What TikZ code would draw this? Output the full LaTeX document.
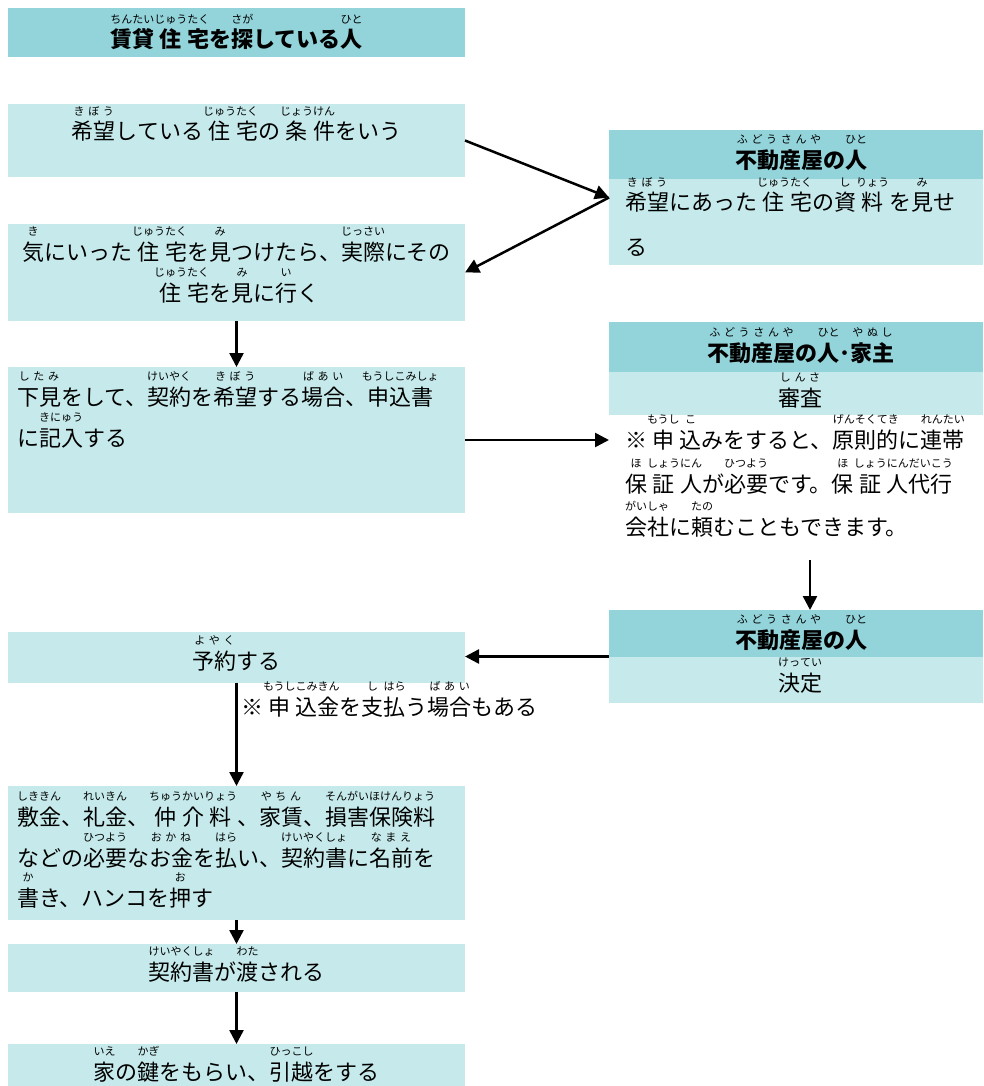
\documentclass[tikz,border=0pt]{standalone}
\usepackage{fontspec}
\setmainfont{Noto Sans CJK JP}
\usetikzlibrary{arrows.meta,fit}
\definecolor{hdrc}{RGB}{147,212,219}
\definecolor{bodyc}{RGB}{198,234,235}
\newcommand\rubyfont{\normalfont\fontsize{11}{12}\selectfont}
\newdimen\rbraise \rbraise=24.5pt
\newdimen\rbw
\def\RSfirst#1{#1\RSloop}%
\def\RSloop#1{\ifx\relax#1\else\hskip0pt plus1fil\relax#1\expandafter\RSloop\fi}%
\newcommand\rb[2]{\leavevmode\begingroup
 \setbox0=\hbox{#1}%
 \setbox2=\hbox{\rubyfont #2}%
 \ifdim\wd2<\wd0 %
  \setbox2=\hbox to\wd0{\rubyfont\hskip0pt plus.5fil\relax\RSfirst#2\relax\hskip0pt plus.5fil\relax}%
 \fi
 \ifdim\wd2>\wd0 \rbw=\wd2 \else \rbw=\wd0 \fi
 \hbox to\rbw{\hss\box0\hss}%
 \kern-\rbw
 \raise\rbraise\hbox to\rbw{\hss\box2\hss}%
 \endgroup}
% ruby that may overhang its base (no widening of the base)
\newcommand\rbo[2]{\leavevmode\begingroup
 \setbox0=\hbox{#1}%
 \setbox2=\hbox{\rubyfont #2}%
 \rbw=\wd0
 \hbox to\rbw{\hss\box0\hss}%
 \kern-\rbw
 \raise\rbraise\hbox to\rbw{\hss\box2\hss}%
 \endgroup}
\tikzset{
 hdrbox/.style={fill=hdrc, draw=none, inner sep=0pt, outer sep=0pt, anchor=north west},
 bodybox/.style={fill=bodyc, draw=none, inner sep=0pt, outer sep=0pt, anchor=north west},
 voidbox/.style={draw=none, inner sep=0pt, outer sep=0pt, anchor=north west},
 txt/.style={inner sep=0pt, outer sep=0pt, font=\fontsize{22}{26}\selectfont},
 txtb/.style={inner sep=0pt, outer sep=0pt, font=\fontsize{22}{26}\selectfont\bfseries},
 arr/.style={line width=2.5pt, -{Triangle[length=14pt,width=14pt]}}
}
\begin{document}
\begin{tikzpicture}[x=1pt,y=-1pt]
\useasboundingbox (0,0) rectangle (983,1086);
% left column boxes
\node[hdrbox, minimum width=457pt, minimum height=49pt] (title) at (8,8) {};
\node[bodybox, minimum width=457pt, minimum height=73pt] (b2) at (8,104) {};
\node[bodybox, minimum width=457pt, minimum height=97pt] (b3) at (8,224) {};
\node[bodybox, minimum width=457pt, minimum height=146pt] (b4) at (8,367) {};
\node[bodybox, minimum width=457pt, minimum height=51pt] (b5) at (8,632) {};
\node[bodybox, minimum width=457pt, minimum height=134pt] (b6) at (8,786) {};
\node[bodybox, minimum width=457pt, minimum height=48pt] (b7) at (8,944) {};
\node[bodybox, minimum width=457pt, minimum height=42pt] (b8) at (8,1044) {};
% right column boxes
\node[hdrbox, minimum width=374pt, minimum height=49pt] (r1h) at (609,130) {};
\node[bodybox, minimum width=374pt, minimum height=86pt] (r1b) at (609,179) {};
\node[fit=(r1h)(r1b), inner sep=0pt, outer sep=0pt] (r1) {};
\node[hdrbox, minimum width=374pt, minimum height=50pt] (r2h) at (609,322) {};
\node[bodybox, minimum width=374pt, minimum height=43pt] (r2s) at (609,372) {};
\node[voidbox, minimum width=374pt, minimum height=145pt] (r2n) at (609,415) {};
\node[fit=(r2h)(r2s)(r2n), inner sep=0pt, outer sep=0pt] (r2) {};
\node[hdrbox, minimum width=374pt, minimum height=47pt] (r3h) at (609,610) {};
\node[bodybox, minimum width=374pt, minimum height=46pt] (r3b) at (609,657) {};
\node[fit=(r3h)(r3b), inner sep=0pt, outer sep=0pt] (r3) {};
% texts
\node[txtb, anchor=base] (ttitle) at (236.5,48) {\rb{賃}{ちん}\rb{貸}{たい}\rb{住}{じゅう}\rb{宅}{たく}を\rb{探}{さが}している\rb{人}{ひと}};
\node[txt, anchor=base] (t2) at (236.5,140) {\rb{希望}{きぼう}している\rb{住}{じゅう}\rb{宅}{たく}の\rb{条}{じょう}\rb{件}{けん}をいう};
\node[txtb, anchor=base] (tr1h) at (801,168) {\rb{不動産屋}{ふどうさんや}の\rb{人}{ひと}};
\node[txt, anchor=base west] (tr1a) at (625,211) {\rb{希望}{きぼう}にあった\rb{住}{じゅう}\rb{宅}{たく}の\rb{資}{し}\rb{料}{りょう}を\rb{見}{み}せ};
\node[txt, anchor=base west] (tr1b) at (625,255) {る};
\node[txt, anchor=base] (t3a) at (236.5,260) {\rb{気}{き}にいった\rb{住}{じゅう}\rb{宅}{たく}を\rb{見}{み}つけたら、\rb{実際}{じっさい}にその};
\node[txt, anchor=base] (t3b) at (236.5,301) {\rb{住}{じゅう}\rb{宅}{たく}を\rb{見}{み}に\rb{行}{い}く};
\node[txt, anchor=base west] (t4a) at (17,405) {\rb{下見}{したみ}をして、\rb{契約}{けいやく}を\rb{希望}{きぼう}する\rb{場合}{ばあい}、\rbo{申込書}{もうしこみしょ}};
\node[txt, anchor=base west] (t4b) at (17,446) {に\rb{記入}{きにゅう}する};
\node[txtb, anchor=base] (tr2h) at (801,361) {\rb{不動産屋}{ふどうさんや}の\rb{人}{ひと}･\rb{家主}{やぬし}};
\node[txt, anchor=base] (tr2s) at (800,406) {\rb{審査}{しんさ}};
\node[txt, anchor=base west] (tr2a) at (625,448) {※\rb{申}{もうし}\rb{込}{こ}みをすると、\rb{原則的}{げんそくてき}に\rb{連帯}{れんたい}};
\node[txt, anchor=base west] (tr2b) at (625,492) {\rb{保}{ほ}\rb{証}{しょう}\rb{人}{にん}が\rb{必要}{ひつよう}です。\rb{保}{ほ}\rb{証}{しょう}\rb{人}{にん}\rb{代行}{だいこう}};
\node[txt, anchor=base west] (tr2c) at (625,535) {\rb{会社}{がいしゃ}に\rb{頼}{たの}むこともできます。};
\node[txtb, anchor=base] (tr3h) at (801,648) {\rb{不動産屋}{ふどうさんや}の\rb{人}{ひと}};
\node[txt, anchor=base] (tr3b) at (800,691) {\rb{決定}{けってい}};
\node[txt, anchor=base] (t5) at (236.5,669) {\rb{予約}{よやく}する};
\node[txt, anchor=base west] (t5n) at (241,715) {※\rb{申}{もうし}\rb{込金}{こみきん}を\rb{支}{し}\rb{払}{はら}う\rb{場合}{ばあい}もある};
\node[txt, anchor=base west] (t6a) at (17,825) {\rb{敷金}{しききん}、\rb{礼金}{れいきん}、\rb{仲}{ちゅう}\rb{介}{かい}\rb{料}{りょう}、\rb{家賃}{やちん}、\rb{損害保険料}{そんがいほけんりょう}};
\node[txt, anchor=base west] (t6b) at (17,866) {などの\rb{必要}{ひつよう}な\rb{お金}{おかね}を\rb{払}{はら}い、\rb{契約書}{けいやくしょ}に\rb{名前}{なまえ}を};
\node[txt, anchor=base west] (t6c) at (17,906) {\rb{書}{か}き、ハンコを\rb{押}{お}す};
\node[txt, anchor=base] (t7) at (236.5,980) {\rb{契約書}{けいやくしょ}が\rb{渡}{わた}される};
\node[txt, anchor=base] (t8) at (236.5,1080) {\rb{家}{いえ}の\rb{鍵}{かぎ}をもらい、\rb{引越}{ひっこし}をする};
% connectors
\draw[arr] (b2.east) -- (r1.west);
\draw[arr] (r1.west) -- (b3.east);
\draw[arr] (b3.south) -- (b4.north);
\draw[arr] (b4.east) -- (b4.east -| r2.west);
\draw[arr] ([xshift=14pt]r2.south) -- ([xshift=14pt]r3.north);
\draw[arr] (r3.west) -- (r3.west -| b5.east);
\draw[arr] (b5.south) -- (b6.north);
\draw[arr] (b6.south) -- (b7.north);
\draw[arr] (b7.south) -- (b8.north);
\end{tikzpicture}
\end{document}
